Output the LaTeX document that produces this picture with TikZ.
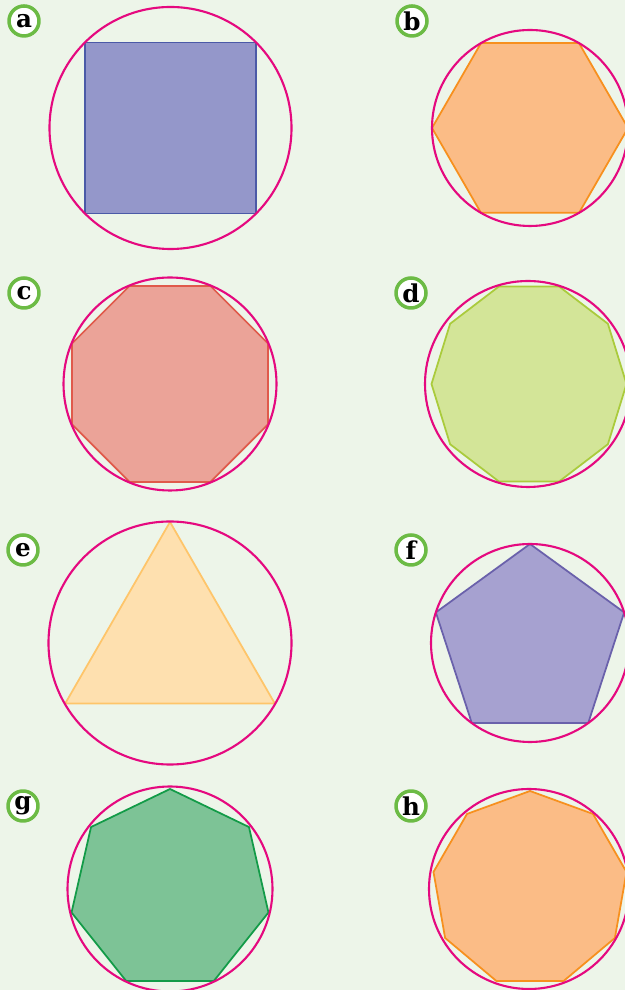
\documentclass[tikz,border=0pt]{standalone}
\usepackage{fontspec}
\newfontfamily\tagfont{DejaVu Serif}
\definecolor{paper}{HTML}{EDF5E9}
\definecolor{rim}{HTML}{E5097F}
\definecolor{tagring}{HTML}{6CBB45}
\definecolor{fillA}{HTML}{9497CA}\definecolor{lineA}{HTML}{4B5AA7}
\definecolor{fillB}{HTML}{FBBC86}\definecolor{lineB}{HTML}{F7901E}
\definecolor{fillC}{HTML}{EBA398}\definecolor{lineC}{HTML}{E05A4B}
\definecolor{fillD}{HTML}{D3E598}\definecolor{lineD}{HTML}{AACB3C}
\definecolor{fillE}{HTML}{FEE0AF}\definecolor{lineE}{HTML}{FEC56A}
\definecolor{fillF}{HTML}{A6A1D0}\definecolor{lineF}{HTML}{6A61AB}
\definecolor{fillG}{HTML}{7DC396}\definecolor{lineG}{HTML}{139B48}
\tikzset{
  ring/.style={draw=rim,line width=1.2pt},
  gon/.style={line width=1pt},
  tag/.style={circle,draw=tagring,line width=2pt,fill=white,minimum size=0.6cm,inner sep=0pt,
    font=\tagfont\bfseries\fontsize{14}{14}\selectfont}
}
\begin{document}
\begin{tikzpicture}[x=0.02cm,y=0.02cm,line join=round,line cap=round]
\useasboundingbox (0,0) rectangle (625,990);
\fill[paper] (0,0) rectangle (625,990);
% a: square
\begin{scope}[shift={(170.5,862)}]
\filldraw[gon,fill=fillA,draw=lineA] (45:121) \foreach \k in {1,2,3} {-- (45+\k*90:121)} -- cycle;
\draw[ring] (0,0) circle (121);
\end{scope}
% b: hexagon
\begin{scope}[shift={(530,862)}]
\filldraw[gon,fill=fillB,draw=lineB] (0:98) \foreach \k in {1,...,5} {-- (\k*60:98)} -- cycle;
\draw[ring] (0,0) circle (98);
\end{scope}
% c: octagon
\begin{scope}[shift={(170,606)}]
\filldraw[gon,fill=fillC,draw=lineC] (22.5:106) \foreach \k in {1,...,7} {-- (22.5+\k*45:106)} -- cycle;
\draw[ring] (0,0) circle (106.5);
\end{scope}
% d: decagon
\begin{scope}[shift={(529,606)}]
\filldraw[gon,fill=fillD,draw=lineD] (0:97.5 and 102.5) \foreach \k in {1,...,9} {-- (\k*36:97.5 and 102.5)} -- cycle;
\draw[ring] (-1,0) circle (103);
\end{scope}
% e: triangle
\begin{scope}[shift={(170,347)}]
\filldraw[gon,fill=fillE,draw=lineE] (90:121) \foreach \k in {1,2} {-- (90+\k*120:121)} -- cycle;
\draw[ring] (0,0) circle (121.5);
\end{scope}
% f: pentagon
\begin{scope}[shift={(530,347)}]
\filldraw[gon,fill=fillF,draw=lineF] (90:99) \foreach \k in {1,...,4} {-- (90+\k*72:99)} -- cycle;
\draw[ring] (0,0) circle (99);
\end{scope}
% g: heptagon
\begin{scope}[shift={(170,100)}]
\filldraw[gon,fill=fillG,draw=lineG] (90:101) \foreach \k in {1,...,6} {-- (90+\k*360/7:101)} -- cycle;
\draw[ring] (0,1) circle (102.5);
\end{scope}
% h: nonagon
\begin{scope}[shift={(530,101)}]
\filldraw[gon,fill=fillB,draw=lineB] (90:98) \foreach \k in {1,...,8} {-- (90+\k*40:98)} -- cycle;
\draw[ring] (-1,0) circle (100);
\end{scope}
% labels
\node[tag] (tagA) at (24,969) {a};
\node[tag] (tagB) at (412,969) {b};
\node[tag] (tagC) at (24,697) {c};
\node[tag] (tagD) at (411,697) {d};
\node[tag] (tagE) at (23,440) {e};
\node[tag] (tagF) at (411,440) {f};
\node[tag] (tagG) at (23,184) {g};
\node[tag] (tagH) at (411,184) {h};
\end{tikzpicture}
\end{document}
